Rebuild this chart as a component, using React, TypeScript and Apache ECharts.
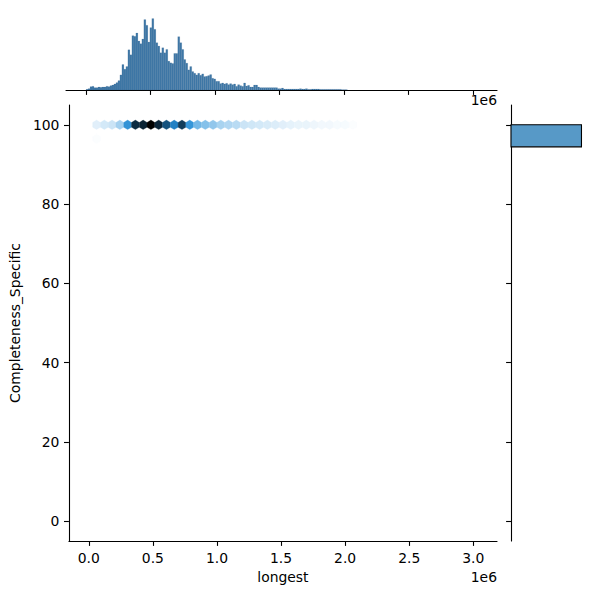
import React, { useEffect, useRef } from "react";
import * as echarts from "echarts";

// ---------- data ----------
const X_TICKS = [0, 500000, 1000000, 1500000, 2000000, 2500000, 3000000];
const Y_TICKS = [0, 20, 40, 60, 80, 100];
const X_MIN = -155000;
const X_MAX = 3185000;
const Y_MIN = -5;
const Y_MAX = 105;
const X_LABEL = "longest";
const Y_LABEL = "Completeness_Specific";

// top marginal histogram of "longest" (bins start at 0)
const HIST_BIN_WIDTH = 15460;
const HIST_COUNTS = [
  2, 4, 10, 11, 7, 7, 9, 8, 9, 9,
  11, 10, 13, 15, 18, 22, 28, 45, 76, 62,
  70, 120, 105, 162, 160, 170, 146, 138, 152, 210,
  193, 143, 186, 213, 181, 141, 131, 111, 126, 111,
  121, 86, 81, 79, 109, 109, 159, 141, 121, 91,
  80, 60, 70, 55, 50, 45, 50, 44, 48, 40,
  41, 43, 46, 35, 33, 26, 26, 19, 21, 18,
  20, 16, 19, 16, 18, 11, 16, 13, 11, 21,
  12, 14, 9, 9, 15, 15, 9, 7, 7, 7,
  7, 7, 7, 7, 7, 7, 4, 4, 6, 3,
  3, 3, 3, 3, 3, 3, 3, 4, 3, 3,
  4, 2, 2, 3, 3, 3, 3, 2, 2, 2,
  2, 2, 2, 2, 2, 2, 2, 2, 1, 1,
  1,
];

// right marginal histogram of "Completeness_Specific" (18 bins over 0..100)
const Y_BIN_WIDTH = 100 / 18;
const Y_BIN_COUNTS = [0, 0, 0, 0, 0, 0, 0, 0, 0, 0, 0, 0, 0, 0, 0, 0, 0, 940];

// hexbin cells (gridsize 50): column index, y centre, count
const HEX_SX = 3030000 / 50;
const HEX_SY = 100 / 28;
const HEX_COL = [
  1, 2, 3, 4, 5, 6, 7, 8, 9, 10, 11, 12, 13, 14, 15, 16, 17,
  18, 19, 20, 21, 22, 23, 24, 25, 26, 27, 28, 29, 30, 31, 32, 33, 34,
  1,
];
const HEX_Y = [
  100, 100, 100, 100, 100, 100, 100, 100, 100, 100, 100, 100, 100, 100, 100, 100, 100,
  100, 100, 100, 100, 100, 100, 100, 100, 100, 100, 100, 100, 100, 100, 100, 100, 100,
  96.43,
];
const HEX_COUNT = [
  7, 10, 12, 21, 48, 85, 88, 100, 87, 71, 55, 79, 47, 32, 28, 25, 20,
  18, 16, 12, 11, 10, 9, 8, 7, 6, 5, 5, 4, 3, 3, 2, 2, 1,
  1,
];

// ---------- colour map (seaborn jointplot hex: C0 from light to dark) ----------
function hlsToRgb(h: number, l: number, s: number): number[] {
  if (s === 0) return [l, l, l];
  const m2 = l <= 0.5 ? l * (1 + s) : l + s - l * s;
  const m1 = 2 * l - m2;
  const v = (hue: number) => {
    hue = ((hue % 1) + 1) % 1;
    if (hue < 1 / 6) return m1 + (m2 - m1) * hue * 6;
    if (hue < 0.5) return m2;
    if (hue < 2 / 3) return m1 + (m2 - m1) * (2 / 3 - hue) * 6;
    return m1;
  };
  return [v(h + 1 / 3), v(h), v(h - 1 / 3)];
}
const C0_H = 0.56823;
const C0_S = 0.70616;
const STOPS: number[][] = [];
for (let i = 0; i < 12; i++) {
  const l = 1 - i / 11;
  STOPS.push(hlsToRgb(C0_H, l, C0_S));
}
function cmap(t: number): string {
  t = Math.max(0, Math.min(1, t));
  const p = t * 11;
  const i = Math.min(10, Math.floor(p));
  const f = p - i;
  const a = STOPS[i];
  const b = STOPS[i + 1];
  const c = a.map((av, k) => Math.round((av + (b[k] - av) * f) * 255));
  return `rgb(${c[0]},${c[1]},${c[2]})`;
}

const FONT = "DejaVu Sans";
const FS = 13.9;

export default function App() {
  const ref = useRef<HTMLDivElement>(null);
  useEffect(() => {
    if (!ref.current) return;
    const chart = echarts.init(ref.current, undefined, { renderer: "svg" });
    const maxCount = Math.max(...HEX_COUNT);
    const hexData = HEX_COL.map((c, i) => [c * HEX_SX, HEX_Y[i], HEX_COUNT[i]]);
    const histData = HIST_COUNTS.map((c, k) => [k * HIST_BIN_WIDTH, (k + 1) * HIST_BIN_WIDTH, c]);
    const yHistData = Y_BIN_COUNTS.map((c, k) => [k * Y_BIN_WIDTH, (k + 1) * Y_BIN_WIDTH, c]);
    const histMax = Math.max(...HIST_COUNTS) * 1.05;
    const yHistMax = Math.max(...Y_BIN_COUNTS) * 1.05;

    const lineStyle = { color: "#000", width: 1.1 };
    const tickStyle = { show: true, length: 4.9, inside: false, lineStyle: { color: "#000", width: 1.1 } };

    const option: any = {
      animation: false,
      backgroundColor: "#fff",
      textStyle: { fontFamily: FONT },
      grid: [
        { left: 66, top: 105, width: 431, height: 436 },
        { left: 66, top: 15, width: 431, height: 75 },
        { left: 511, top: 105, width: 74, height: 436 },
      ],
      xAxis: [
        {
          gridIndex: 0, type: "value", min: X_MIN, max: X_MAX,
          splitLine: { show: false },
          axisLine: { show: true, onZero: false, lineStyle },
          axisTick: { ...tickStyle, customValues: X_TICKS },
          axisLabel: {
            customValues: X_TICKS, margin: 9.5, color: "#000", fontSize: FS, fontFamily: FONT,
            formatter: (v: number) => (v / 1e6).toFixed(1),
          },
          name: X_LABEL, nameLocation: "middle", nameGap: 29,
          nameTextStyle: { color: "#000", fontSize: FS, fontFamily: FONT },
        },
        {
          gridIndex: 1, type: "value", min: X_MIN, max: X_MAX,
          splitLine: { show: false },
          axisLine: { show: true, onZero: false, lineStyle },
          axisTick: { ...tickStyle, customValues: X_TICKS },
          axisLabel: { show: false, customValues: X_TICKS },
        },
        {
          gridIndex: 2, type: "value", min: 0, max: yHistMax, show: false,
        },
      ],
      yAxis: [
        {
          gridIndex: 0, type: "value", min: Y_MIN, max: Y_MAX,
          splitLine: { show: false },
          axisLine: { show: true, onZero: false, lineStyle },
          axisTick: { ...tickStyle, customValues: Y_TICKS },
          axisLabel: { customValues: Y_TICKS, margin: 9.5, color: "#000", fontSize: FS, fontFamily: FONT },
          name: Y_LABEL, nameLocation: "middle", nameGap: 42, nameRotate: 90,
          nameTextStyle: { color: "#000", fontSize: FS, fontFamily: FONT },
        },
        {
          gridIndex: 1, type: "value", min: 0, max: histMax, show: false,
        },
        {
          gridIndex: 2, type: "value", min: Y_MIN, max: Y_MAX,
          splitLine: { show: false },
          axisLine: { show: true, onZero: false, lineStyle },
          axisTick: { ...tickStyle, customValues: Y_TICKS },
          axisLabel: { show: false, customValues: Y_TICKS },
        },
      ],
      series: [
        {
          type: "custom", xAxisIndex: 0, yAxisIndex: 0, data: hexData, clip: true,
          renderItem: (_p: any, api: any) => {
            const cx = api.value(0);
            const cy = api.value(1);
            const c = api.value(2);
            const offs = [[0.5, -0.5], [0.5, 0.5], [0, 1], [-0.5, 0.5], [-0.5, -0.5], [0, -1]];
            const points = offs.map(([a, b]) => api.coord([cx + a * HEX_SX, cy + (b * HEX_SY) / 3]));
            const col = cmap(c / maxCount);
            return { type: "polygon", shape: { points }, style: { fill: col, stroke: col, lineWidth: 0.3 } };
          },
        },
        {
          type: "custom", xAxisIndex: 1, yAxisIndex: 1, data: histData,
          renderItem: (_p: any, api: any) => {
            const p0 = api.coord([api.value(0), api.value(2)]);
            const p1 = api.coord([api.value(1), 0]);
            return {
              type: "rect",
              shape: { x: p0[0], y: p0[1], width: p1[0] - p0[0], height: p1[1] - p0[1] },
              style: { fill: "#3f78a7", stroke: "rgba(40,80,120,0.35)", lineWidth: 0.3 },
            };
          },
        },
        {
          type: "custom", xAxisIndex: 2, yAxisIndex: 2, data: yHistData,
          renderItem: (_p: any, api: any) => {
            if (api.value(2) <= 0) return null;
            const p0 = api.coord([0, api.value(1)]);
            const p1 = api.coord([api.value(2), api.value(0)]);
            return {
              type: "rect",
              shape: { x: p0[0], y: p0[1], width: p1[0] - p0[0], height: p1[1] - p0[1] },
              style: { fill: "#5799c7", stroke: "#000", lineWidth: 1.1 },
            };
          },
        },
      ],
      graphic: [
        {
          type: "text", x: 497, y: 577,
          style: { text: "1e6", fill: "#000", font: `${FS}px ${FONT}`, textAlign: "right", textVerticalAlign: "middle" },
        },
        {
          type: "text", x: 497, y: 100,
          style: { text: "1e6", fill: "#000", font: `${FS}px ${FONT}`, textAlign: "right", textVerticalAlign: "middle" },
        },
      ],
    };
    chart.setOption(option);
    return () => chart.dispose();
  }, []);
  return (
    <div
      ref={ref}
      style={{ position: "fixed", left: 0, top: 0, width: 600, height: 600, background: "#fff" }}
    />
  );
}
